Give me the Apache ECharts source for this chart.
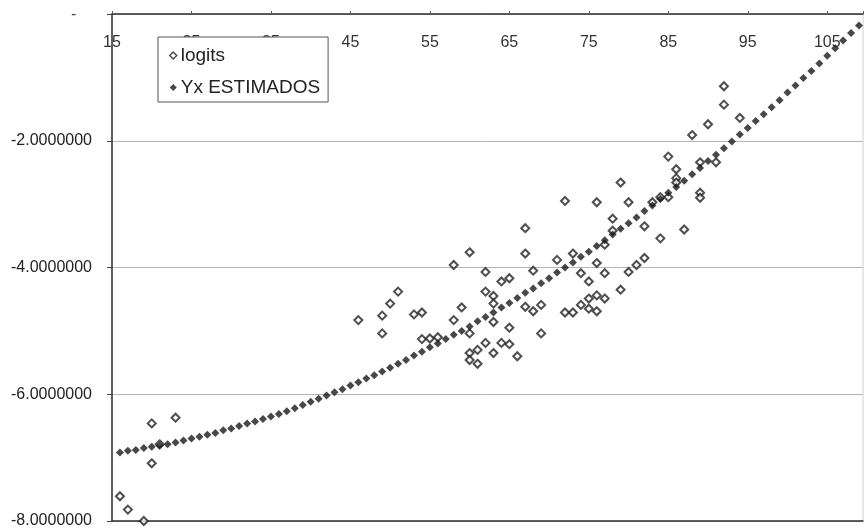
<!DOCTYPE html>
<html>
<head>
<meta charset="utf-8">
<script src="https://cdn.jsdelivr.net/npm/echarts@6/dist/echarts.min.js"></script>
<style>
html,body{margin:0;padding:0;background:#fff;}
#c{width:866px;height:529px;}
</style>
</head>
<body>
<div id="c"></div>
<script>
// X-axis tick labels: 15, 25, ... 105 ; Y-axis: -8 .. 0 step 2
var xTicks = [15, 25, 35, 45, 55, 65, 75, 85, 95, 105];
var yTicks = [-8, -6, -4, -2, 0];

// "logits" (observed)
var logitsX = [16,17,19,20,20,21,23,
  46,49,49,50,51,53,54,54,55,56,
  58,58,59,60,60,60,60,61,61,
  62,62,62,63,63,63,63,64,64,
  65,65,65,66,67,67,67,68,68,
  69,69,71,72,72,73,73,74,74,
  75,75,75,76,76,76,76,77,77,77,
  78,78,79,79,80,80,81,82,82,
  83,84,84,85,85,86,86,86,87,
  88,89,89,89,90,91,92,92,94];
var logitsY = [-7.61,-7.82,-8.0,-6.46,-7.09,-6.79,-6.37,
  -4.83,-4.76,-5.04,-4.57,-4.38,-4.74,-4.71,-5.13,-5.12,-5.10,
  -3.96,-4.83,-4.63,-3.76,-5.04,-5.35,-5.46,-5.30,-5.52,
  -4.07,-4.38,-5.19,-4.45,-4.57,-4.86,-5.35,-4.22,-5.19,
  -4.17,-4.95,-5.21,-5.40,-3.38,-3.78,-4.62,-4.05,-4.69,
  -4.59,-5.04,-3.88,-2.95,-4.71,-3.78,-4.71,-4.09,-4.59,
  -4.22,-4.49,-4.65,-2.97,-3.93,-4.44,-4.69,-3.64,-4.09,-4.49,
  -3.23,-3.42,-2.66,-4.35,-2.97,-4.07,-3.96,-3.35,-3.85,
  -2.97,-2.89,-3.54,-2.25,-2.89,-2.45,-2.59,-2.66,-3.40,
  -1.91,-2.34,-2.82,-2.90,-1.74,-2.34,-1.14,-1.43,-1.64];

// "Yx ESTIMADOS" (estimated)
var estX = [16,17,18,19,20,21,22,23,24,25,26,27,28,29,30,31,32,33,34,35,
  36,37,38,39,40,41,42,43,44,45,46,47,48,49,50,51,52,53,54,55,
  56,57,58,59,60,61,62,63,64,65,66,67,68,69,70,71,72,73,74,75,
  76,77,78,79,80,81,82,83,84,85,86,87,88,89,90,91,92,93,94,95,
  96,97,98,99,100,101,102,103,104,105,106,107,108,109];
var estY = [-6.92,-6.89,-6.88,-6.85,-6.83,-6.81,-6.79,-6.76,-6.73,-6.70,-6.67,-6.64,-6.61,-6.57,-6.54,-6.50,-6.46,-6.43,-6.39,-6.35,
  -6.31,-6.27,-6.22,-6.17,-6.12,-6.07,-6.02,-5.97,-5.92,-5.86,-5.81,-5.75,-5.70,-5.64,-5.58,-5.52,-5.46,-5.39,-5.33,-5.26,
  -5.20,-5.13,-5.06,-5.00,-4.93,-4.85,-4.78,-4.71,-4.63,-4.56,-4.48,-4.40,-4.33,-4.25,-4.17,-4.08,-4.00,-3.92,-3.83,-3.75,
  -3.66,-3.57,-3.48,-3.39,-3.30,-3.21,-3.11,-3.02,-2.92,-2.82,-2.73,-2.63,-2.53,-2.43,-2.32,-2.22,-2.12,-2.01,-1.90,-1.80,
  -1.69,-1.58,-1.47,-1.36,-1.24,-1.13,-1.01,-0.90,-0.78,-0.66,-0.54,-0.42,-0.30,-0.18];

var FONT = 'Arial, "Liberation Sans", sans-serif';

function pairs(xs, ys){ var o=[]; for(var i=0;i<xs.length;i++) o.push([xs[i], ys[i]]); return o; }

var chart = echarts.init(document.getElementById('c'), null, {renderer:'canvas'});
chart.setOption({
  animation:false,
  backgroundColor:'#fff',
  grid:{left:112, top:14, right:3, bottom:7, show:true, borderColor:'#d0d0d0', borderWidth:1},
  legend:{
    orient:'vertical', left:158, top:37,
    padding:[9,8,5,11], itemGap:13,
    itemWidth:7, itemHeight:7,
    backgroundColor:'#fff', borderColor:'#555', borderWidth:1, borderRadius:0,
    textStyle:{fontFamily:FONT, fontSize:19, color:'#222', padding:[0,0,0,-1]},
    data:[
      {name:'logits', icon:'diamond', itemStyle:{color:'#fff', borderColor:'#222', borderWidth:1.5}},
      {name:'Yx ESTIMADOS', icon:'diamond', itemStyle:{color:'#1a1a1a'}}
    ],
    z:10
  },
  xAxis:[{
    type:'value', position:'top', min:15, max:109.5, interval:10,
    axisLine:{show:true, onZero:false, lineStyle:{color:'#333', width:1.5}},
    axisTick:{show:true, inside:false, length:3, lineStyle:{color:'#555'}},
    axisLabel:{inside:true, margin:21, fontFamily:FONT, fontSize:16, color:'#333',
      formatter:function(v){ return xTicks.indexOf(v) >= 0 ? String(v) : ''; }},
    splitLine:{show:false}
  },{
    type:'value', position:'bottom', min:15, max:109.5,
    axisLine:{show:true, onZero:false, lineStyle:{color:'#333', width:1.5}},
    axisTick:{show:false}, axisLabel:{show:false}, splitLine:{show:false}
  }],
  yAxis:{
    type:'value', min:-8, max:0, interval:2,
    axisLine:{show:true, onZero:false, lineStyle:{color:'#333', width:1.5}},
    axisTick:{show:true, length:5, lineStyle:{color:'#444'}},
    axisLabel:{margin:20, fontFamily:FONT, fontSize:16, color:'#222',
      formatter:function(v){ return (yTicks.indexOf(v) >= 0 && v !== 0) ? v.toFixed(7) : ''; }},
    splitLine:{show:true, lineStyle:{color:'#b5b5b5', width:1}}
  },
  graphic:[{type:'text', left:71, top:7, style:{text:'-', font:'16px '+FONT, fill:'#444'}}],
  series:[
    {name:'logits', type:'scatter', xAxisIndex:0, symbol:'diamond', symbolSize:8, clip:false,
     itemStyle:{color:'#fff', borderColor:'#222', borderWidth:2},
     data:pairs(logitsX, logitsY), z:3},
    {name:'Yx ESTIMADOS', type:'scatter', xAxisIndex:0, symbol:'diamond', symbolSize:8,
     itemStyle:{color:'#1a1a1a'},
     data:pairs(estX, estY), z:4}
  ]
});
</script>
</body>
</html>
